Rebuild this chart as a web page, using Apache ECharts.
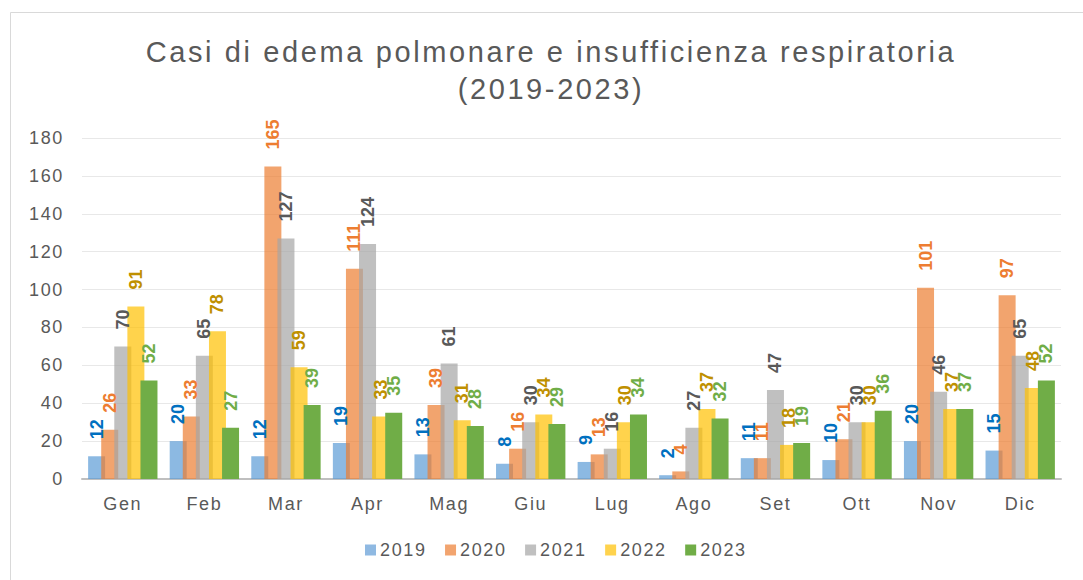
<!DOCTYPE html>
<html><head><meta charset="utf-8">
<script src="https://cdn.jsdelivr.net/npm/echarts@6/dist/echarts.min.js"></script>
<style>html,body{margin:0;padding:0;background:#fff}#c{width:1083px;height:580px}
#c text{letter-spacing:0.09em}
#c text[style*="bold"],#c text[font-weight="bold"]{letter-spacing:0}</style>
</head><body><div id="c"></div>
<script>
const categories = ['Gen','Feb','Mar','Apr','Mag','Giu','Lug','Ago','Set','Ott','Nov','Dic'];
const seriesNames = ['2019','2020','2021','2022','2023'];
const v2019 = [12,20,12,19,13,8,9,2,11,10,20,15];
const v2020 = [26,33,165,111,39,16,13,4,11,21,101,97];
const v2021 = [70,65,127,124,61,30,16,27,47,30,46,65];
const v2022 = [91,78,59,33,31,34,30,37,18,30,37,48];
const v2023 = [52,27,39,35,28,29,34,32,19,36,37,52];
const yTicks = [0,20,40,60,80,100,120,140,160,180];

const values = [v2019,v2020,v2021,v2022,v2023];
const barColors = ['rgba(91,155,213,0.7)','rgba(237,125,49,0.7)','rgba(165,165,165,0.7)','rgba(255,192,0,0.7)','rgba(112,173,71,1)'];
const legendColors = ['#8fb9e2','#f2a46f','#c0c0c0','#ffd34d','#70ad47'];
const labelColors = ['#0070C0','#ED7D31','#595959','#BF9000','#70AD47'];
const font = 'Liberation Sans, Arial, sans-serif';

const chart = echarts.init(document.getElementById('c'), null, {renderer:'svg'});
chart.setOption({
  animation:false,
  textStyle:{fontFamily:font},
  graphic:[{type:'rect',shape:{x:10.5,y:12.5,width:1080,height:580},style:{fill:'none',stroke:'#d9d9d9',lineWidth:1}}],
  title:{text:'Casi di edema polmonare e insufficienza respiratoria\n(2019-2023)',left:546,textAlign:'center',top:28,
    textStyle:{fontFamily:font,fontSize:29,fontWeight:'normal',color:'#595959',lineHeight:37}},
  legend:{bottom:21,left:365,padding:0,itemWidth:11,itemHeight:11,itemGap:25,icon:'rect',
    textStyle:{fontFamily:font,fontSize:18,color:'#595959',padding:[0,0,0,-1]},
    data:seriesNames.map((n,i)=>({name:n,itemStyle:{color:legendColors[i]}}))},
  grid:{left:82,right:22,top:138,bottom:101},
  xAxis:{type:'category',data:categories,
    axisLine:{lineStyle:{color:'#bfbfbf',width:2}},axisTick:{show:false},
    axisLabel:{fontSize:18,color:'#595959',margin:16,fontFamily:font}},
  yAxis:{type:'value',min:0,max:180,interval:20,
    axisLine:{show:false},axisTick:{show:false},
    splitLine:{lineStyle:{color:'#e8e8e8',width:1}},
    axisLabel:{fontSize:18,color:'#595959',margin:18,fontFamily:font,
      formatter:v=>yTicks.includes(v)?String(v):''}},
  series:seriesNames.map((n,i)=>({
    name:n,type:'bar',barWidth:17,barGap:'-23%',data:values[i],
    itemStyle:{color:barColors[i]},
    label:{show:true,position:'top',rotate:90,align:'left',verticalAlign:'middle',distance:17,
      fontSize:18,fontWeight:'bold',color:labelColors[i],fontFamily:font}
  }))
});
</script></body></html>
